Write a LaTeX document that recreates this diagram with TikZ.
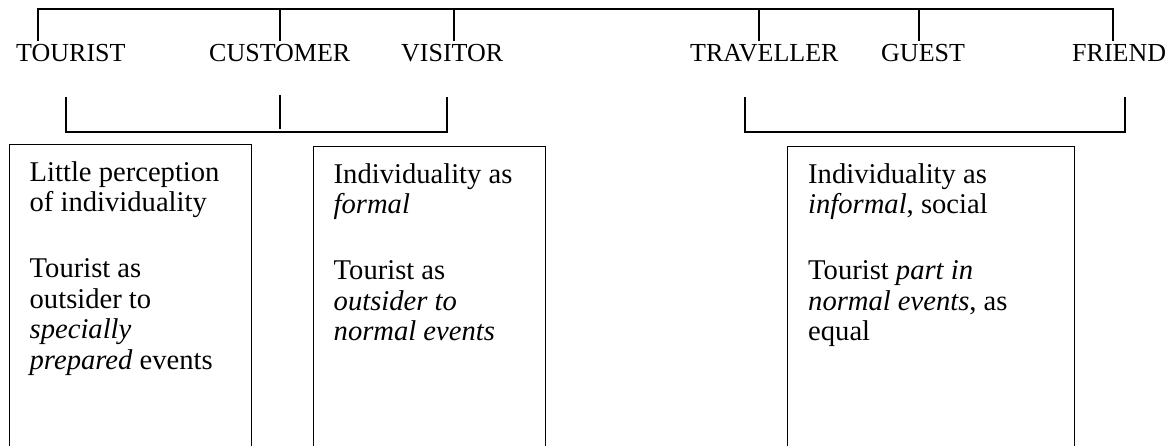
\documentclass[tikz,border=0pt]{standalone}
\usepackage{fontspec}
\setmainfont{Liberation Serif}
\usepackage{tikz}
\usetikzlibrary{positioning}

\tikzset{
  rule/.style={line width=1.3pt},
  tag/.style={anchor=base west, inner sep=0pt, font=\fontsize{26}{30}\selectfont},
  panel/.style={draw, line width=0.9pt, anchor=north west, inner sep=0pt, minimum height=330pt},
  note/.style={anchor=north west, inner sep=0pt, align=left, font=\fontsize{28.6}{30.5}\selectfont}
}

\begin{document}
\begin{tikzpicture}[x=1pt, y=1pt]
        \useasboundingbox (0,0) rectangle (1173,-446);

        % the six labels
        \node[tag] (tourist) at (16,-62) {TOURIST};
        \node[tag] (customer) at (209,-62) {CUSTOMER};
        \node[tag] (visitor) at (401,-62) {VISITOR};
        \node[tag] (traveller) at (690,-62) {TRAVELLER};
        \node[tag] (guest) at (881,-62) {GUEST};
        \node[tag] (friend) at (1072,-62) {FRIEND};

        % top rail
        \coordinate (rail) at (0,-9);
        \foreach \n/\x in {tou/38, cus/280, vis/454, tra/759, gue/919, fri/1113}
          \coordinate (k\n) at (\x,-41);
        \draw[rule] (ktou) |- (rail -| kfri) -- (kfri);
        \foreach \n in {cus, vis, tra, gue}
          \draw[rule] (k\n) -- (k\n |- rail);

        % lower brackets
        \coordinate (low) at (0,-132);
        \coordinate (la) at (66,-97);
        \coordinate (lm) at (280,-95);
        \coordinate (lb) at (447,-97);
        \coordinate (ra) at (745,-97);
        \coordinate (rb) at (1125,-97);
        \draw[rule] (la) |- (low -| lb) -- (lb);
        \draw[rule] (lm) -- ([yshift=3pt]low -| lm);
        \draw[rule] (ra) |- (low -| rb) -- (rb);

        % panels
        \node[panel, minimum width=242pt] (pan1) at (9,-144) {};
        \node[panel, minimum width=232pt] (pan2) at (313,-146) {};
        \node[panel, minimum width=287pt] (pan3) at (787,-146) {};

        \node[note] (note1) at ([shift={(20.5,-17)}]pan1.north west)
          {\rule{0pt}{20pt}Little perception\\of individuality\\[35.5pt]Tourist as\\outsider to\\\emph{specially}\\\emph{prepared} events};
        \node[note] (note2) at ([shift={(20.5,-17)}]pan2.north west)
          {\rule{0pt}{20pt}Individuality as\\\emph{formal}\\[35.5pt]Tourist as\\\emph{outsider to}\\\emph{normal events}};
        \node[note] (note3) at ([shift={(21,-17)}]pan3.north west)
          {\rule{0pt}{20pt}Individuality as\\\emph{informal}, social\\[35.5pt]Tourist \emph{part in}\\\emph{normal events}, as\\equal};
      \end{tikzpicture}
\end{document}
